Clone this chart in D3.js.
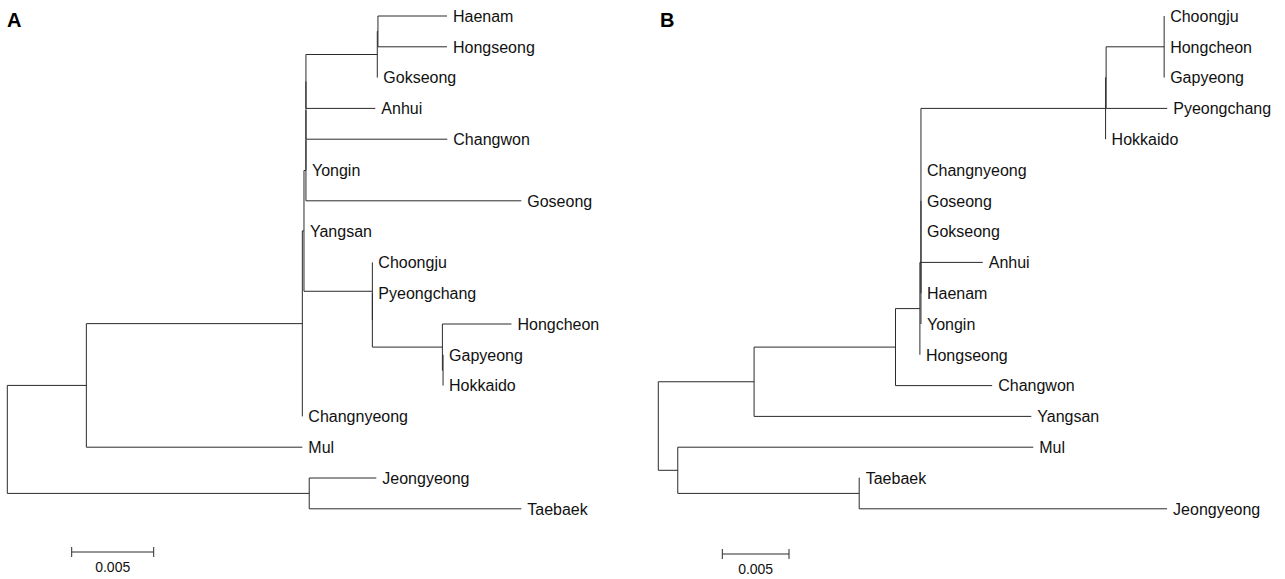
<!DOCTYPE html>
<html lang="en">
  <head>
    <meta charset="UTF-8" />
    <title>Phylogenetic trees A and B</title>
    <script src="https://d3js.org/d3.v7.min.js"></script>
    <style>
      body {
        margin: 0;
        background: #fff;
        font-family: Arial, "Liberation Sans", sans-serif;
      }
      .branch {
        stroke: #2a2a2a;
        stroke-width: 1;
        fill: none;
      }
      .leaf {
        font-size: 16px;
        fill: #111;
      }
    </style>
  </head>
  <body>
    <script>
      // Tree A: node ids, parents and branch lengths (child order = leaf order)
      const treeANodes = ["rootA", "a1", "a2", "a3", "a4", "a5", "a6", "a7", "a8", "a9",
        "Haenam", "Hongseong", "Gokseong", "Anhui", "Changwon", "Yongin", "Goseong",
        "Yangsan", "a10", "Choongju", "a11", "Pyeongchang", "a12", "Hongcheon", "a13",
        "Gapyeong", "Hokkaido", "Changnyeong", "Mul", "a14", "Jeongyeong", "Taebaek"];
      const treeAParents = ["", "rootA", "a1", "a2", "a3", "a4", "a5", "a6", "a7", "a8",
        "a9", "a9", "a8", "a7", "a6", "a5", "a4",
        "a3", "a3", "a10", "a10", "a11", "a11", "a12", "a12",
        "a13", "a13", "a2", "a1", "rootA", "a14", "a14"];
      const treeALengths = [0, 0.00482, 0.01317, 0.0001, 0.00012, 0, 0, 0, 0.00435, 0.00004,
        0.00421, 0.00421, 0, 0.00423, 0.00862, 0, 0.01313,
        0, 0.00417, 0, 0, 0, 0.00427, 0.00421, 0.00004,
        0, 0, 0, 0.01317, 0.01841, 0.00409, 0.01293];

      // Tree B
      const treeBNodes = ["rootB", "b1", "b2", "b3", "b4", "b5", "b6", "b7", "b8",
        "Choongju", "Hongcheon", "Gapyeong", "Pyeongchang", "Hokkaido",
        "Changnyeong", "Goseong", "Gokseong", "Anhui", "Haenam", "Yongin", "Hongseong",
        "Changwon", "Yangsan", "b9", "Mul", "b10", "Taebaek", "Jeongyeong"];
      const treeBParents = ["", "rootB", "b1", "b2", "b3", "b4", "b5", "b6", "b7",
        "b8", "b8", "b8", "b7", "b6",
        "b5", "b5", "b5", "b5", "b5", "b4", "b3",
        "b2", "b1", "rootB", "b9", "b9", "b10", "b10"];
      const treeBLengths = [0, 0.00718, 0.0106, 0.00183, 0.00008, 0, 0.01384, 0.00004, 0.00435,
        0, 0, 0, 0.00458, 0,
        0, 0, 0, 0.00463, 0, 0, 0,
        0.00725, 0.02078, 0.00146, 0.02665, 0.0136, 0.00004, 0.02308];

      const scaleBarValue = 0.005;
      const scaleBarLabel = "0.005";

      const width = 1285;
      const height = 579;

      const svg = d3.select("body").append("svg")
        .attr("width", width)
        .attr("height", height);

      svg.append("rect").attr("width", width).attr("height", height).attr("fill", "#fff");

      // leaf rows are shared by both panels
      const y = d3.scaleLinear().domain([0, 16]).range([16, 508.8]);

      function drawTree(opts) {
        const rows = opts.nodes.map((id, i) => ({ id: id, parent: opts.parents[i], len: opts.lengths[i] }));
        const root = d3.stratify().id((d) => d.id).parentId((d) => d.parent || null)(rows);

        const x = d3.scaleLinear()
          .domain([0, scaleBarValue])
          .range([opts.rootX, opts.rootX + opts.barPx]);

        // distance from root
        root.eachBefore((n) => {
          n.dist = n.parent ? n.parent.dist + n.data.len : 0;
        });

        // leaves get consecutive rows; internal nodes sit midway between first and last child
        let row = 0;
        root.eachAfter((n) => {
          if (!n.children) {
            n.py = y(row++);
          } else {
            n.py = (n.children[0].py + n.children[n.children.length - 1].py) / 2;
          }
          n.px = x(n.dist);
        });

        const g = svg.append("g");

        // horizontal branches
        g.selectAll("line.h")
          .data(root.descendants().filter((n) => n.parent))
          .join("line")
          .attr("class", "branch h")
          .attr("x1", (n) => n.parent.px)
          .attr("x2", (n) => n.px)
          .attr("y1", (n) => n.py)
          .attr("y2", (n) => n.py);

        // vertical connectors
        g.selectAll("line.v")
          .data(root.descendants().filter((n) => n.children))
          .join("line")
          .attr("class", "branch v")
          .attr("x1", (n) => n.px)
          .attr("x2", (n) => n.px)
          .attr("y1", (n) => n.children[0].py)
          .attr("y2", (n) => n.children[n.children.length - 1].py);

        // leaf names
        g.selectAll("text.leaf")
          .data(root.leaves())
          .join("text")
          .attr("class", "leaf")
          .attr("x", (n) => n.px + 6)
          .attr("y", (n) => n.py)
          .attr("dy", "0.36em")
          .text((n) => n.id);

        // panel letter
        svg.append("text")
          .attr("x", opts.letterX)
          .attr("y", 27)
          .attr("font-size", 20)
          .attr("font-weight", "bold")
          .attr("fill", "#000")
          .text(opts.letter);

        // scale bar
        const bx = opts.barX;
        const bw = x(scaleBarValue) - x(0);
        const sb = svg.append("g").attr("class", "branch");
        sb.append("line").attr("x1", bx).attr("x2", bx + bw).attr("y1", opts.barY).attr("y2", opts.barY);
        sb.append("line").attr("x1", bx).attr("x2", bx).attr("y1", opts.barY - 5).attr("y2", opts.barY + 5);
        sb.append("line").attr("x1", bx + bw).attr("x2", bx + bw).attr("y1", opts.barY - 5).attr("y2", opts.barY + 5);
        svg.append("text")
          .attr("x", bx + bw / 2)
          .attr("y", opts.barY + 20)
          .attr("text-anchor", "middle")
          .attr("font-size", 14)
          .attr("fill", "#111")
          .text(scaleBarLabel);
      }

      drawTree({
        nodes: treeANodes, parents: treeAParents, lengths: treeALengths,
        rootX: 7.3, barPx: 82, letter: "A", letterX: 7,
        barX: 71.7, barY: 552
      });

      drawTree({
        nodes: treeBNodes, parents: treeBParents, lengths: treeBLengths,
        rootX: 658.3, barPx: 66.7, letter: "B", letterX: 660,
        barX: 722.3, barY: 554
      });
    </script>
  </body>
</html>
